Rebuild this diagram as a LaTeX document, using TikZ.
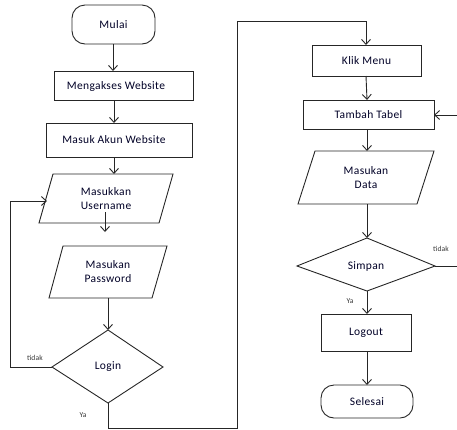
\documentclass[tikz,border=0pt]{standalone}
\usepackage{fontspec}
\setmainfont{Carlito}
\newfontfamily\spacedfont[LetterSpace=3]{Carlito}
\usetikzlibrary{arrows.meta,shapes.geometric,calc}
\tikzset{
  ln/.style={draw=black!85, line width=0.9pt},
  arr/.style={ln, -{Straight Barb[length=5pt,width=9pt,line width=0.9pt]}},
  txt/.style={font=\spacedfont\fontsize{11.5}{14}\selectfont, text=black!85!blue, align=center},
  lbl/.style={font=\spacedfont\fontsize{7.5}{9}\selectfont, text=black!80},
  term/.style={ln, rounded corners=13pt},
  boxs/.style={ln},
}
\begin{document}
\begin{tikzpicture}[x=1pt,y=-1pt]
\useasboundingbox (0,0) rectangle (457,429);
\clip (0,0) rectangle (457,429);
% Mulai
\draw[term] (72,5) rectangle (155,44);
\node[txt] (mulai) at (113.5,24.5) {Mulai};
\coordinate (mulaiB) at (113,44);
% Mengakses
\draw[boxs] (54,71) rectangle (193,100);
\node[txt] (akses) at (116,86) {Mengakses Website};
\coordinate (aksesT) at (113,71);
\coordinate (aksesB) at (114,100);
% Masuk Akun
\draw[boxs] (46,123) rectangle (192,157);
\node[txt] (akun) at (114,140) {Masuk Akun Website};
\coordinate (akunT) at (114,123);
\coordinate (akunB) at (114,157);
% Username
\draw[ln] (53,174) -- (173,174) -- (159,223) -- (39,223) -- cycle;
\node[txt] (user) at (106,199) {Masukkan\\Username};
\coordinate (userT) at (114,174);
\coordinate (userL) at (47,201);
\coordinate (userIn) at (105,212);
\coordinate (userOut) at (105,232);
% Password
\draw[ln] (63,246) -- (167,246) -- (152,298) -- (49,298) -- cycle;
\node[txt] (pass) at (108,272) {Masukan\\Password};
\coordinate (passB) at (108,298);
% Login
\draw[ln] (108,330) -- (163,367) -- (108,403) -- (52,367) -- cycle;
\node[txt] (login) at (108,367) {Login};
\coordinate (loginT) at (108,330);
\coordinate (loginL) at (52,367);
\coordinate (loginB) at (108,403);
% Klik Menu
\draw[boxs] (312,45) rectangle (421,76);
\node[txt] (menu) at (366.5,60.5) {Klik Menu};
\coordinate (menuT) at (366,45);
\coordinate (menuB) at (366,76);
% Tambah Tabel
\draw[boxs] (303,100) rectangle (434,129);
\node[txt] (tabel) at (368.5,114.5) {Tambah Tabel};
\coordinate (tabelT) at (367,100);
\coordinate (tabelB) at (367,129);
\coordinate (tabelR) at (434,115);
% Masukan Data
\draw[ln] (315,151) -- (434,151) -- (417,204) -- (298,204) -- cycle;
\node[txt] (data) at (366,178) {Masukan\\Data};
\coordinate (dataT) at (367,151);
\coordinate (dataB) at (367,204);
% Simpan
\draw[ln] (367,238) -- (435,266) -- (367,291) -- (297,266) -- cycle;
\node[txt] (simpan) at (366,266) {Simpan};
\coordinate (simpanT) at (367,238);
\coordinate (simpanR) at (435,266);
\coordinate (simpanB) at (367,291);
% Logout
\draw[boxs] (321,314) rectangle (411,351);
\node[txt] (logout) at (366,332.5) {Logout};
\coordinate (logoutT) at (367,314);
\coordinate (logoutB) at (367,351);
% Selesai
\draw[term] (321,385) rectangle (413,418);
\node[txt] (selesai) at (367,401.5) {Selesai};
\coordinate (selesaiT) at (367,385);
% connectors
\draw[arr] (mulaiB) -- (aksesT);
\draw[arr] (aksesB) -- (akunT);
\draw[arr] (akunB) -- (userT);
\draw[arr] (userIn) -- (userOut);
\draw[arr] (passB) -- (loginT);
\draw[arr] (loginL) -- (10,367) -- (10,201) -- (userL);
\draw[arr] (loginB) -- (108,428) -- (237,428) -- (237,21) -- (366,21) -- (menuT);
\draw[arr] (menuB) -- (tabelT);
\draw[arr] (tabelB) -- (dataT);
\draw[arr] (dataB) -- (simpanT);
\draw[arr] (simpanB) -- (logoutT);
\draw[arr] (logoutB) -- (selesaiT);
\draw[arr] (simpanR) -- (470,266) -- (470,115) -- (tabelR);
% labels
\node[lbl] (t1) at (35,358) {tidak};
\node[lbl] (y1) at (83,415) {Ya};
\node[lbl] (t2) at (441,249) {tidak};
\node[lbl] (y2) at (350,301) {Ya};
\end{tikzpicture}
\end{document}
